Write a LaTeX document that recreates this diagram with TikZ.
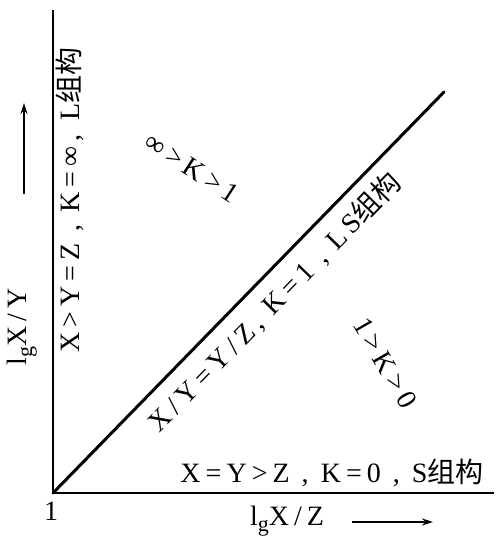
\documentclass[tikz,border=0pt]{standalone}
\usepackage{fontspec}
\setmainfont{Liberation Serif}
\newfontfamily\wide[LetterSpace=18]{Liberation Serif}
\newfontfamily\cjk{Noto Sans CJK SC}
\usetikzlibrary{arrows.meta}

\newcommand{\lgsub}{l\raisebox{-0.45ex}{\fontsize{22}{22}\selectfont g}}

\begin{document}
\begin{tikzpicture}[
        x=1pt, y=1pt,
        axis/.style={
            line width=2.8pt
        },
        diag/.style={
            line width=3pt
        },
        label/.style={
            font=\fontsize{28}{28}\wide,
            inner sep=1pt
        },
        dirArrow/.style={
            line width=1.3pt,
            -{Stealth[length=11pt, width=7pt]}
        }
    ]
        \useasboundingbox (0,0) rectangle (496,539);

        \coordinate (O)  at (53,46);
        \coordinate (yEnd) at (53,529);
        \coordinate (xEnd) at (494,46);
        \coordinate (dEnd) at (444,447);

        \draw[axis] (yEnd) -- (O) -- (xEnd);
        \draw[diag, line cap=round] (O) -- node[label, sloped, below=9pt, pos=0.52]
            {X/Y=Y/Z, K=1 , LS{\cjk 组构}} (dEnd);

        \node[label] (one) at (51,28) {1};

        % horizontal axis
        \node[label] (xLab) at (287,18) {\lgsub X/Z};
        \coordinate (xArrA) at (352,17);
        \coordinate (xArrB) at (433,17);
        \draw[dirArrow] (xArrA) -- (xArrB);

        % vertical axis
        \node[label, rotate=90] (yLab) at (22,212) {\lgsub X/Y};
        \coordinate (yArrA) at (24,345);
        \coordinate (yArrB) at (24,436);
        \draw[dirArrow] (yArrA) -- (yArrB);

        \node[label] (sLab) at (332,66) {X=Y>Z , K=0 , S{\cjk 组构}};
        \node[label, rotate=90] (lLab) at (70,339) {X>Y=Z , K=∞,\enspace L{\cjk 组构}};

        \node[label, rotate=-33] (upLab) at (192,371) {∞>K>1};
        \node[label, rotate=-60] (lowLab) at (385,176) {1>K>0};

    \end{tikzpicture}
\end{document}
